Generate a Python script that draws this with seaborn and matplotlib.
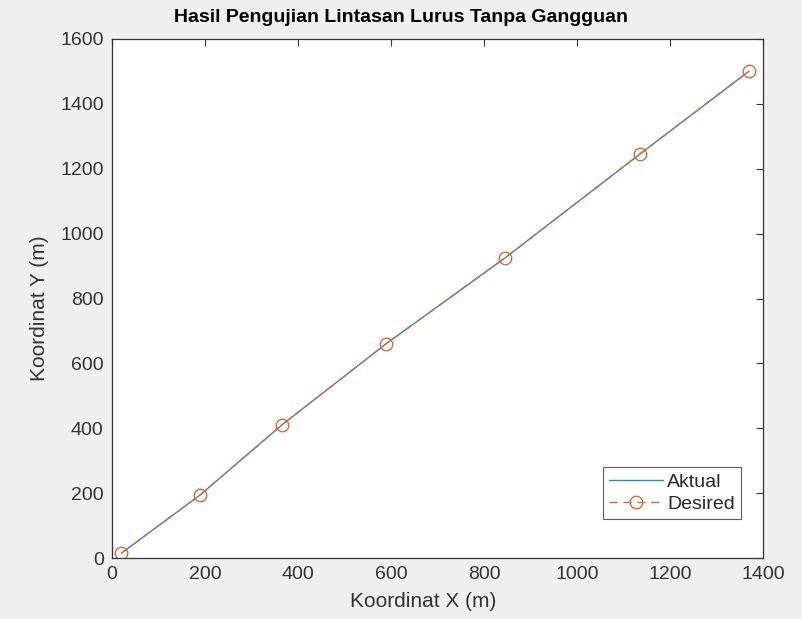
import matplotlib
matplotlib.use("Agg")
import matplotlib.pyplot as plt
import seaborn as sns
import pandas as pd

x_aktual = [20, 190, 365, 589, 845, 1135, 1370]
y_aktual = [15, 195, 410, 660, 925, 1245, 1501]
x_desired = [20, 190, 365, 589, 845, 1135, 1370]
y_desired = [15, 195, 410, 660, 925, 1245, 1501]
x_ticks = [0, 200, 400, 600, 800, 1000, 1200, 1400]
y_ticks = [0, 200, 400, 600, 800, 1000, 1200, 1400, 1600]

sns.set_style("white")
plt.rcParams['font.family'] = ['Liberation Sans', 'DejaVu Sans']

fig = plt.figure(figsize=(8.03, 6.19), dpi=100, facecolor='#f0f0f0')
ax = fig.add_axes([0.1395, 0.0985, 0.8107, 0.8385])
ax.set_facecolor('white')

df_a = pd.DataFrame({'x': x_aktual, 'y': y_aktual})
df_d = pd.DataFrame({'x': x_desired, 'y': y_desired})

sns.lineplot(data=df_a, x='x', y='y', ax=ax, color='#2F86C4', lw=1.0,
             label='Aktual', sort=False, estimator=None)
sns.lineplot(data=df_d, x='x', y='y', ax=ax, color='#D66A3C', lw=1.0,
             linestyle=(0, (6, 4)), marker='o', markersize=9,
             markerfacecolor='none', markeredgecolor='#D66A3C', markeredgewidth=1.0,
             label='Desired', sort=False, estimator=None)

ax.set_xlim(0, 1400)
ax.set_ylim(0, 1600)
ax.set_xticks(x_ticks)
ax.set_yticks(y_ticks)
ax.tick_params(direction='in', length=5, width=0.8, top=True, right=True,
               labelsize=14, colors='#333333', pad=6)
for s in ax.spines.values():
    s.set_visible(True)
    s.set_color('#333333')
    s.set_linewidth(0.9)

ax.set_xlabel('Koordinat X (m)', fontsize=15, color='#333333', labelpad=5)
ax.xaxis.set_label_coords((423 - 112) / 651, -0.055 - 0.01, transform=ax.transAxes)
ax.set_ylabel('Koordinat Y (m)', fontsize=15, color='#333333', labelpad=6)
ax.yaxis.set_label_coords(-0.097, (558 - 308) / 519, transform=ax.transAxes)
fig.text(401 / 803, 1 - 18 / 619, 'Hasil Pengujian Lintasan Lurus Tanpa Gangguan',
         fontsize=14, fontweight='bold', color='black', ha='center', va='center')

leg = ax.legend(loc='lower right', bbox_to_anchor=(0.966, 0.075), fontsize=14,
                frameon=True, fancybox=False, edgecolor='#333333',
                handlelength=2.8, borderpad=0.3, labelspacing=0.25, handletextpad=0.2,
                borderaxespad=0)
leg.get_frame().set_linewidth(0.8)

fig.savefig('out.png', dpi=100, facecolor=fig.get_facecolor())
